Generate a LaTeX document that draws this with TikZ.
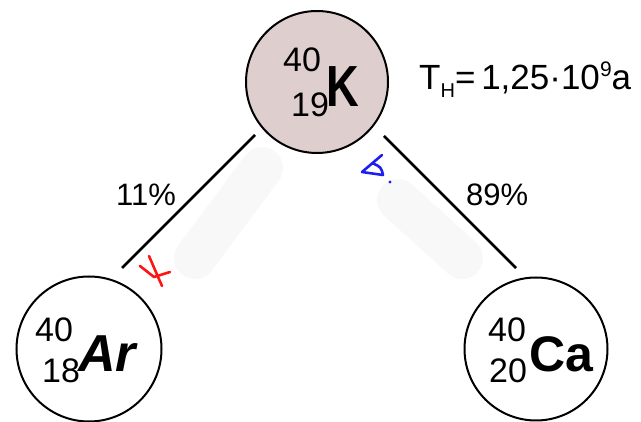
\documentclass[tikz,border=0pt]{standalone}
\usepackage{fontspec}
\setmainfont{Liberation Sans}
\definecolor{kfill}{RGB}{222,206,206}
\definecolor{swoosh}{RGB}{248,248,248}
\definecolor{scribred}{RGB}{255,20,20}
\definecolor{scribblue}{RGB}{30,30,240}
\tikzset{
  nuc/.style={circle, draw=black, line width=2pt, inner sep=0pt},
  txt/.style={inner sep=0pt, anchor=base west},
  decay/.style={line width=2.8pt, black},
  num/.style={txt, font=\fontsize{34}{34}\selectfont},
  pct/.style={txt, font=\fontsize{31}{31}\selectfont},
}
\begin{document}
\begin{tikzpicture}[x=1pt,y=-1pt]
\useasboundingbox (0,0) rectangle (641,422);
% faint background swooshes
\draw[swoosh, line width=42pt, line cap=round] (195,258) -- (262,168);
\draw[swoosh, line width=42pt, line cap=round] (398,200) -- (462,258);
% nuclei
\node[nuc, fill=kfill, minimum size=142pt] (K) at (317,82) {};
\node[nuc, fill=white, minimum size=145pt] (Ar) at (89,349) {};
\node[nuc, fill=white, minimum size=143pt] (Ca) at (536,349) {};
% K text
\node[num] (k40) at (283,72) {40};
\node[num] (k19) at (291,117) {19};
\node[txt, font=\fontsize{58}{58}\selectfont\bfseries, xscale=0.78] (kK) at (326,107) {K};
% Ar text
\node[num] (a40) at (35,342) {40};
\node[num] (a18) at (42,383) {18};
\node[txt, font=\fontsize{52}{52}\selectfont\bfseries\itshape] (aAr) at (78,372) {Ar};
% Ca text
\node[num] (c40) at (488,342) {40};
\node[num] (c20) at (489,383) {20};
\node[txt, font=\fontsize{50}{50}\selectfont\bfseries] (cCa) at (529,372) {Ca};
% half-life
\node[txt, font=\fontsize{35}{35}\selectfont] (TH) at (419,90)
  {T\raisebox{-8pt}{\fontsize{20}{20}\selectfont H}=\,1,25·10\raisebox{13pt}{\fontsize{21}{21}\selectfont 9}a};
% connectors
\coordinate (kl) at (255,135);
\coordinate (al) at (122,268);
\coordinate (kr) at (384,136);
\coordinate (cr) at (516,268);
\draw[decay] (kl) -- (al);
\draw[decay] (kr) -- (cr);
% percentages
\node[pct] (p11) at (116,206) {11\%};
\node[pct] (p89) at (466,206) {89\%};
% red scribble (K capture)
\draw[scribred, line width=2.6pt, line cap=round, line join=round] (149,256) -- (162,286);
\draw[scribred, line width=2.6pt, line cap=round, line join=round] (140,266) -- (154,277) -- (170,272);
% blue scribble (beta)
\draw[scribblue, line width=2.6pt, line cap=round, line join=round]
  (382,155) -- (362,172) -- (383,175) .. controls (381,167) .. (372,163);
\fill[scribblue] (390,182) circle (1.7pt);
\end{tikzpicture}
\end{document}
